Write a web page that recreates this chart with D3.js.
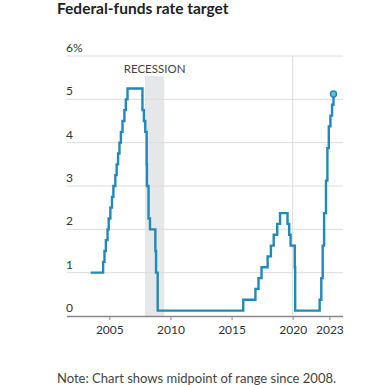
<!DOCTYPE html>
<html><head><meta charset="utf-8">
<script src="https://cdn.jsdelivr.net/npm/d3@7"></script>
<style>
html,body{margin:0;padding:0;background:#fff;}
svg{display:block;}
</style></head>
<body>
<svg id="chart" width="365" height="385"></svg>
<script>
const dates = ["2003-06-25","2004-06-30","2004-08-10","2004-09-21","2004-11-10","2004-12-14","2005-02-02","2005-03-22","2005-05-03","2005-06-30","2005-08-09","2005-09-20","2005-11-01","2005-12-13","2006-01-31","2006-03-28","2006-05-10","2006-06-29","2007-09-18","2007-10-31","2007-12-11","2008-01-22","2008-01-30","2008-03-18","2008-04-30","2008-10-08","2008-10-29","2008-12-16","2015-12-16","2016-12-14","2017-03-15","2017-06-14","2017-12-13","2018-03-21","2018-06-13","2018-09-26","2018-12-19","2019-07-31","2019-09-18","2019-10-30","2020-03-03","2020-03-15","2022-03-16","2022-05-04","2022-06-15","2022-07-27","2022-09-21","2022-11-02","2022-12-14","2023-02-01","2023-03-22","2023-05-03"];
const rates = [1.00,1.25,1.50,1.75,2.00,2.25,2.50,2.75,3.00,3.25,3.50,3.75,4.00,4.25,4.50,4.75,5.00,5.25,4.75,4.50,4.25,3.50,3.00,2.25,2.00,1.50,1.00,0.125,0.375,0.625,0.875,1.125,1.375,1.625,1.875,2.125,2.375,2.125,1.875,1.625,1.125,0.125,0.375,0.875,1.625,2.375,3.125,3.875,4.375,4.625,4.875,5.125];
const yTicks = [0,1,2,3,4,5,6];
const xTickYears = [2005,2010,2015,2020,2023];
const recession = ["2007-12-01","2009-06-30"];
const title = "Federal-funds rate target";
const note = "Note: Chart shows midpoint of range since 2008.";

const parse = d3.timeParse("%Y-%m-%d");
const data = dates.map((d,i)=>({date: parse(d), value: rates[i]}));

const svg = d3.select("#chart");
const plotLeft = 67, plotRight = 343, plotTop = 56, plotBottom = 316;
const x = d3.scaleTime().domain([new Date(2005,0,1), new Date(2020,0,1)]).range([109.3, 292.7]);
const y = d3.scaleLinear().domain([0,6]).range([plotBottom, plotTop]);

const font = "Lato, 'Open Sans', sans-serif";

svg.append("text").attr("x",57).attr("y",14).text(title)
  .attr("font-family",font).attr("font-weight",700).attr("font-size",15.5).attr("fill","#222");

// recession shading
svg.append("rect")
  .attr("x", x(parse(recession[0]))).attr("width", x(parse(recession[1]))-x(parse(recession[0])))
  .attr("y", 76).attr("height", plotBottom-76).attr("fill","#e6e7e8");
svg.append("text").attr("x",(x(parse(recession[0]))+x(parse(recession[1])))/2).attr("y",73)
  .attr("text-anchor","middle").text("RECESSION")
  .attr("font-family",font).attr("font-size",11.5).attr("fill","#444");

// horizontal gridlines
yTicks.filter(t=>t>0).forEach(t=>{
  svg.append("line").attr("x1",plotLeft).attr("x2",plotRight).attr("y1",y(t)).attr("y2",y(t))
    .attr("stroke","#dcdcdc").attr("stroke-width",1);
});
// y labels
yTicks.forEach(t=>{
  svg.append("text").attr("x",66).attr("y",y(t)-4).text(t===6 ? "6%" : String(t))
    .attr("font-family",font).attr("font-size",12).attr("fill","#333");
});
// vertical gridline at 2020
svg.append("line").attr("x1",x(new Date(2020,0,1))).attr("x2",x(new Date(2020,0,1)))
  .attr("y1",plotTop).attr("y2",plotBottom).attr("stroke","#dcdcdc").attr("stroke-width",1);

// x axis
const xAxis = d3.axisBottom(x).tickValues(xTickYears.map(yr=>new Date(yr,0,1)))
  .tickFormat(d3.timeFormat("%Y")).tickSize(4).tickSizeOuter(0);
const gx = svg.append("g").attr("transform",`translate(0,${plotBottom})`).call(xAxis);
gx.select(".domain").remove();
gx.append("line").attr("x1",plotLeft).attr("x2",plotRight).attr("y1",0.5).attr("y2",0.5).attr("stroke","#888").attr("stroke-width",1.5);
gx.selectAll(".tick line").attr("stroke","#888");
gx.selectAll(".tick text").attr("font-family",font).attr("font-size",12).attr("fill","#333").attr("dy","0.9em");

// line
const line = d3.line().x(d=>x(d.date)).y(d=>y(d.value)).curve(d3.curveStepAfter);
svg.append("path").datum(data).attr("d",line).attr("fill","none")
  .attr("stroke","#2189b8").attr("stroke-width",2.4).attr("stroke-linejoin","miter");
const last = data[data.length-1];
svg.append("circle").attr("cx",x(last.date)).attr("cy",y(last.value)).attr("r",3)
  .attr("fill","#5cc3d3").attr("stroke","#2189b8").attr("stroke-width",1.5);

svg.append("text").attr("x",57).attr("y",383).text(note)
  .attr("font-family",font).attr("font-size",13).attr("fill","#444");
</script>
</body></html>
